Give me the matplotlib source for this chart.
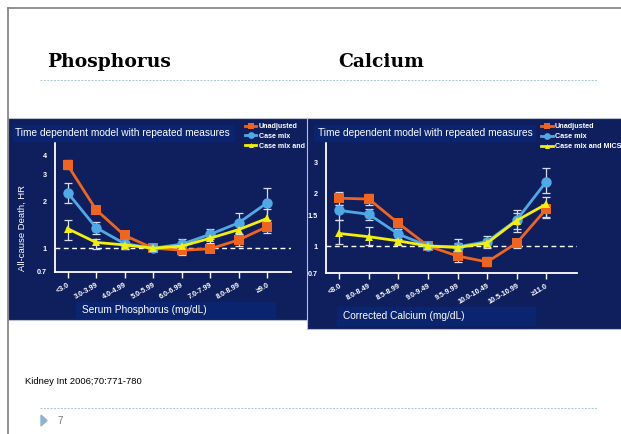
import matplotlib
matplotlib.use("Agg")
import matplotlib.pyplot as plt
from matplotlib.patches import Rectangle, Polygon
from matplotlib.lines import Line2D

W, H = 621, 434

# --- data ---
phos_cats = ["<3.0", "3.0-3.99", "4.0-4.99", "5.0-5.99", "6.0-6.99",
             "7.0-7.99", "8.0-8.99", "\u22659.0"]
phos_unadj = [3.48, 1.78, 1.21, 1.00, 0.97, 0.99, 1.13, 1.38]
phos_unadj_lo = [3.26, 1.70, 1.16, 1.00, 0.90, 0.95, 1.04, 1.26]
phos_unadj_hi = [3.74, 1.86, 1.26, 1.00, 1.02, 1.03, 1.20, 1.46]
phos_cm = [2.30, 1.36, 1.07, 1.00, 1.06, 1.23, 1.46, 1.97]
phos_cm_lo = [1.97, 1.23, 0.99, 1.00, 0.98, 1.14, 1.24, 1.53]
phos_cm_hi = [2.67, 1.47, 1.11, 1.00, 1.14, 1.34, 1.69, 2.46]
phos_mics = [1.34, 1.09, 1.05, 1.00, 1.03, 1.16, 1.32, 1.56]
phos_mics_lo = [1.13, 0.99, 0.99, 1.00, 0.99, 1.08, 1.22, 1.32]
phos_mics_hi = [1.53, 1.15, 1.10, 1.00, 1.08, 1.25, 1.42, 1.80]
phos_yticks = [0.7, 1, 2, 3, 4]

ca_cats = ["<8.0", "8.0-8.49", "8.5-8.99", "9.0-9.49", "9.5-9.99",
           "10.0-10.49", "10.5-10.99", "\u226511.0"]
ca_unadj = [1.88, 1.86, 1.35, 1.00, 0.876, 0.81, 1.04, 1.63]
ca_unadj_lo = [1.72, 1.72, 1.28, 1.00, 0.81, 0.77, 0.98, 1.44]
ca_unadj_hi = [2.05, 2.00, 1.41, 1.00, 0.93, 0.86, 1.10, 1.70]
ca_cm = [1.60, 1.52, 1.17, 1.00, 0.99, 1.06, 1.41, 2.34]
ca_cm_lo = [1.41, 1.41, 1.10, 1.00, 0.91, 0.97, 1.21, 2.02]
ca_cm_hi = [1.72, 1.64, 1.25, 1.00, 1.09, 1.14, 1.61, 2.80]
ca_mics = [1.18, 1.13, 1.07, 1.00, 0.98, 1.04, 1.40, 1.74]
ca_mics_lo = [1.03, 1.02, 1.01, 1.00, 0.93, 0.99, 1.25, 1.46]
ca_mics_hi = [1.41, 1.28, 1.14, 1.00, 1.04, 1.10, 1.55, 1.90]
ca_yticks = [0.7, 1, 1.5, 2, 3]

ORANGE = "#f0641e"
BLUE = "#4fa9e6"
YELLOW = "#f2ef0a"
NAVY = "#0f1f5e"
BOX = "#0b246f"
SANS = "Liberation Sans"


def box(x0, y0, x1, y1):
    # pixel box (top-left origin) -> figure rect
    return [x0 / W, 1 - y1 / H, (x1 - x0) / W, (y1 - y0) / H]


def fx(x):
    return x / W


def fy(y):
    return 1 - y / H


fig = plt.figure(figsize=(W / 100, H / 100), dpi=100)
fig.patch.set_facecolor("white")

# slide frame
fig.add_artist(Line2D([fx(8), fx(8)], [0, fy(8)], color="#7f7f7f", lw=1.2))
fig.add_artist(Line2D([fx(8), 1], [fy(8), fy(8)], color="#7f7f7f", lw=1.2))

fig.text(fx(47), fy(67), "Phosphorus", family="DejaVu Serif", weight="bold",
         fontsize=13.5, va="baseline")
fig.text(fx(338), fy(67), "Calcium", family="DejaVu Serif", weight="bold",
         fontsize=13.5, va="baseline")
for yy in (80, 408):
    fig.add_artist(Line2D([fx(40), fx(598)], [fy(yy), fy(yy)], color="#a9c4cf",
                          lw=0.7, ls=(0, (2, 1.5))))
fig.text(fx(25), fy(381), "Kidney Int 2006;70:771-780", family=SANS,
         fontsize=6.8, va="center")
fig.add_artist(Polygon([[fx(41), fy(415)], [fx(41), fy(426)], [fx(47), fy(420.5)]],
                       closed=True, color="#8fb3cf", transform=fig.transFigure))
fig.text(fx(57), fy(421), "7", family=SANS, fontsize=7, color="#777777", va="center")


def panel(rect, title_rect, title_xy, xlab_rect, xlab_xy, xlabel,
          ax_rect, cats, unadj, ulo, uhi, cm, clo, chi, mics, mlo, mhi,
          xlim, ylim, yticks, legend_xy, mics_label, leg_size):
    bg = fig.add_axes(box(*rect))
    bg.set_facecolor(NAVY)
    bg.set_xticks([])
    bg.set_yticks([])
    for s in bg.spines.values():
        s.set_edgecolor("#b9bfcc")
        s.set_linewidth(0.8)
    fig.add_artist(Rectangle((fx(title_rect[0]), fy(title_rect[3])),
                             (title_rect[2] - title_rect[0]) / W,
                             (title_rect[3] - title_rect[1]) / H,
                             transform=fig.transFigure, color=BOX))
    fig.text(fx(title_xy[0]), fy(title_xy[1]),
             "Time dependent model with repeated measures",
             family=SANS, fontsize=7.3, color="white", va="center")
    fig.add_artist(Rectangle((fx(xlab_rect[0]), fy(xlab_rect[3])),
                             (xlab_rect[2] - xlab_rect[0]) / W,
                             (xlab_rect[3] - xlab_rect[1]) / H,
                             transform=fig.transFigure, color=BOX))
    fig.text(fx(xlab_xy[0]), fy(xlab_xy[1]), xlabel, family=SANS,
             fontsize=7.3, color="white", va="center")

    ax = fig.add_axes(box(*ax_rect))
    ax.patch.set_alpha(0)
    ax.set_yscale("log")
    x = list(range(len(cats)))
    ax.axhline(1.0, color="white", lw=1, ls=(0, (3.5, 2.5)), zorder=1)
    series = [(unadj, ulo, uhi, ORANGE, "s", 7),
              (cm, clo, chi, BLUE, "o", 7.5),
              (mics, mlo, mhi, YELLOW, "^", 5.5)]
    handles = []
    for vals, lo, hi, col, mk, ms in series:
        err = [[v - l for v, l in zip(vals, lo)], [h - v for v, h in zip(vals, hi)]]
        ax.errorbar(x, vals, yerr=err, fmt="none", ecolor="#d9dce6",
                    elinewidth=0.9, capsize=2.6, capthick=0.9, zorder=2)
    for vals, lo, hi, col, mk, ms in series:
        ln, = ax.plot(x, vals, color=col, lw=2, marker=mk, ms=ms,
                      markeredgewidth=0, zorder=3)
        handles.append(ln)
    ax.set_xlim(*xlim)
    ax.set_ylim(*ylim)
    ax.set_xticks(x)
    ax.set_xticklabels(cats, rotation=30, ha="right", rotation_mode="anchor",
                       family=SANS, fontsize=5.2, weight="bold", color="white")
    ax.set_yticks(yticks)
    ax.set_yticklabels([str(t) for t in yticks], family=SANS, fontsize=5.2,
                       weight="bold", color="white")
    ax.yaxis.set_minor_locator(matplotlib.ticker.NullLocator())
    ax.tick_params(axis="x", colors="white", length=4, width=1, pad=3)
    ax.tick_params(axis="y", length=0, pad=6)
    for s in ("top", "right"):
        ax.spines[s].set_visible(False)
    for s in ("left", "bottom"):
        ax.spines[s].set_color("white")
        ax.spines[s].set_linewidth(1.3)

    bg.legend(handles, ["Unadjusted", "Case mix", mics_label],
              loc="upper left", bbox_to_anchor=(fx(legend_xy[0]), fy(legend_xy[1])),
              bbox_transform=fig.transFigure, frameon=False, borderpad=0,
              borderaxespad=0, handlelength=1.6, handletextpad=0.35,
              labelspacing=0.42, markerscale=0.65, labelcolor="white",
              prop={"family": SANS, "weight": "bold", "size": leg_size})
    return ax


panel((8, 118, 309, 320), (13, 125, 234, 141), (15, 133),
      (76, 302, 275, 318), (82, 310), "Serum Phosphorus (mg/dL)",
      (55, 143, 291, 272), phos_cats,
      phos_unadj, phos_unadj_lo, phos_unadj_hi,
      phos_cm, phos_cm_lo, phos_cm_hi,
      phos_mics, phos_mics_lo, phos_mics_hi,
      (-0.44, 7.84), (0.707, 4.83), phos_yticks, (245, 123), "Case mix and", 5.1)
fig.text(fx(22), fy(228), "All-cause Death, HR", family=SANS, fontsize=6.8,
         color="white", rotation=90, ha="center", va="center")

panel((307, 118, 625, 329), (314, 125, 535, 141), (318, 133),
      (337, 307, 535, 325), (343, 316), "Corrected Calcium (mg/dL)",
      (326, 143, 577, 273), ca_cats,
      ca_unadj, ca_unadj_lo, ca_unadj_hi,
      ca_cm, ca_cm_lo, ca_cm_hi,
      ca_mics, ca_mics_lo, ca_mics_hi,
      (-0.45, 8.04), (0.70, 3.90), ca_yticks, (541, 123), "Case mix and MICS", 5.2)

fig.savefig("out.png", dpi=100, facecolor="white")
